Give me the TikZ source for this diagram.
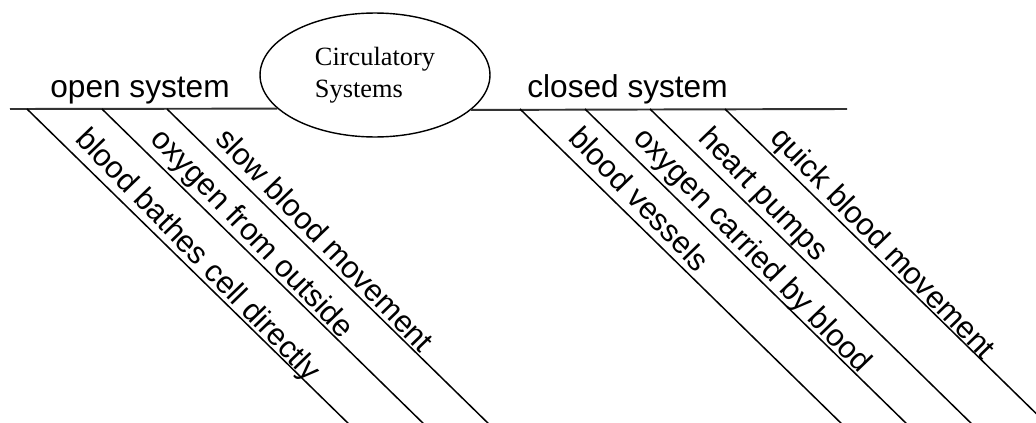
\documentclass[tikz,border=0pt]{standalone}
\usepackage{fontspec}
\setmainfont{Liberation Sans}
\newfontfamily\circfont{Liberation Serif}
\usetikzlibrary{shapes.geometric}

\begin{document}
\begin{tikzpicture}[x=0.02cm, y=-0.02cm]
        \useasboundingbox (0,0) rectangle (1036,423);
        \clip (0,0) rectangle (1036,423);
        % centre
        \node[ellipse, draw, line width=0.8pt, minimum width=4.6cm, minimum height=2.48cm, inner sep=0, align=left,
              font=\circfont\fontsize{15}{18.2}\selectfont] (C) at (375,75) {Circulatory\\Systems};
        % spine and ribs
        \coordinate (L) at (10,109);
        \coordinate (R) at (847,109);
        \coordinate (ob1) at (27,109);   \coordinate (ob1e) at (355,430);
        \coordinate (ob2) at (102,109);  \coordinate (ob2e) at (430,430);
        \coordinate (ob3) at (167,109);  \coordinate (ob3e) at (495,430);
        \coordinate (cb1) at (520,109);  \coordinate (cb1e) at (848,430);
        \coordinate (cb2) at (585,109);  \coordinate (cb2e) at (913,430);
        \coordinate (cb3) at (650,109);  \coordinate (cb3e) at (978,430);
        \coordinate (cb4) at (725,109);  \coordinate (cb4e) at (1053,430);
        \begin{scope}[every node/.style={anchor=base west, inner sep=0, font=\fontsize{18}{21.6}\selectfont}]
                \node (open) at (50,97) {open system};
                \node (closed) at (527,97) {closed system};
        \end{scope}
        \begin{scope}[every node/.style={anchor=base west, inner sep=0, rotate=-46, font=\fontsize{17.5}{21}\selectfont}]
                \node (bathes) at (74,140) {blood bathes cell directly};
                \node (oxout) at (149,140) {oxygen from outside};
                \node (slow) at (214,140) {slow blood movement};
                \node (vessels) at (567,139) {blood vessels};
                \node (oxblood) at (632,139) {oxygen carried by blood};
                \node (pumps) at (697,139) {heart pumps};
                \node (quick) at (769,139) {quick blood movement};
        \end{scope}
        \begin{scope}[every path/.style={line width=1.1pt, draw=black!80}]
                \path (L) edge (C.199.5);
                \path (C.340.5) edge (R);
        \end{scope}
        \begin{scope}[every path/.style={line width=0.85pt, draw=black}]
                \path (ob1) edge (ob1e);
                \path (ob2) edge (ob2e);
                \path (ob3) edge (ob3e);
                \path (cb1) edge (cb1e);
                \path (cb2) edge (cb2e);
                \path (cb3) edge (cb3e);
                \path (cb4) edge (cb4e);
        \end{scope}
\end{tikzpicture}
\end{document}
